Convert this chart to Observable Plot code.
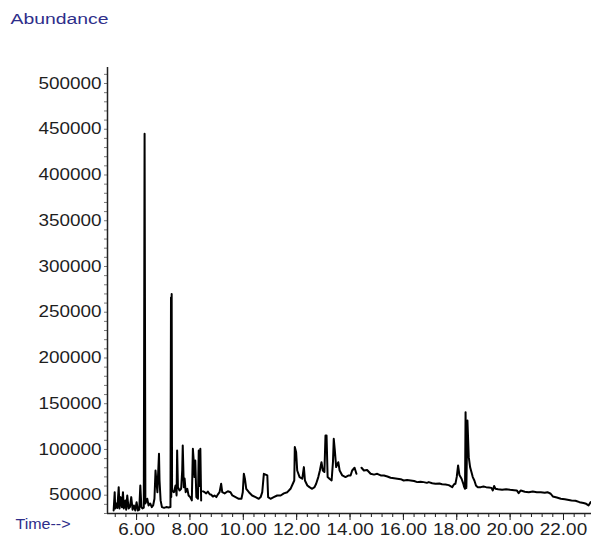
<!DOCTYPE html>
<html><head><meta charset="utf-8">
<script src="https://cdn.jsdelivr.net/npm/d3@7"></script>
<script src="https://cdn.jsdelivr.net/npm/@observablehq/plot@0.6"></script>
<style>body{margin:0;background:#fff}</style>
</head><body><div id="chart"></div>
<script>
// Retention time (min) and abundance; null = gap in trace
const times = [
 5.14,5.18,5.20,5.24,5.28,5.33,5.36,5.40,5.45,5.49,5.52,5.58,5.61,5.65,5.70,5.75,5.80,5.85,5.90,5.95,
 6.00,6.05,6.10,6.14,6.18,6.22,6.27,6.30,6.33,6.40,6.45,6.51,6.57,6.62,6.67,6.71,6.74,6.78,6.80,6.84,
 6.86,6.90,6.95,7.03,7.11,7.20,7.27,7.29,7.30,7.315,7.33,7.40,7.46,7.50,7.52,7.55,7.61,7.67,7.71,7.73,
 7.77,7.80,7.84,7.90,7.95,8.01,8.07,8.11,8.15,8.17,8.20,8.24,8.30,8.33,8.36,8.39,8.42,8.45,
 8.49,8.55,8.61,8.67,8.74,8.80,8.86,8.92,8.99,9.05,9.11,9.17,9.21,9.30,9.42,9.52,9.59,9.71,9.83,9.93,
 9.98,10.02,10.06,10.11,10.21,10.33,10.46,10.58,10.65,10.71,10.77,10.90,10.93,11.02,11.14,11.27,11.40,11.52,11.65,11.77,
 11.86,11.91,11.93,11.98,12.02,12.11,12.21,12.27,12.31,12.40,12.48,12.58,12.67,12.73,12.81,12.87,12.93,12.98,13.04,13.08,
 13.12,13.16,13.23,13.31,13.36,13.39,13.43,13.48,13.56,13.61,13.71,13.83,13.95,14.02,14.08,14.17,14.24,14.33,
 14.43,14.52,14.64,14.77,14.90,15.02,15.15,15.27,15.40,15.52,15.65,15.77,15.90,16.01,16.14,16.27,16.40,16.52,16.64,16.76,
 16.88,16.95,17.08,17.20,17.35,17.45,17.58,17.70,17.83,17.90,17.95,18.00,18.05,18.10,18.18,18.24,18.28,18.31,18.33,18.36,
 18.40,18.45,18.50,18.55,18.60,18.66,18.72,18.78,18.90,19.00,19.10,19.20,19.30,19.35,19.40,19.45,19.55,19.70,19.85,20.00,
 20.15,20.25,20.32,20.40,20.55,20.70,20.85,21.00,21.15,21.30,21.40,21.52,21.60,21.75,21.90,22.05,22.15,22.30,22.45,22.60,
 22.75,22.85,22.94,23.02
];
const abundance = [
 33300,53300,35500,41000,36000,58800,35500,47900,36900,53300,35500,44300,34200,49700,35500,37000,47900,34200,38800,33300,
 42400,33300,34200,60650,37000,35500,36500,445000,41000,46100,38800,41000,37000,38800,46100,77000,66100,53300,68300,95300,
 66100,44300,37000,36200,37000,36500,37000,266000,48000,270000,55000,53300,60650,49700,98900,58800,55200,57000,77000,104400,
 58800,68300,53300,57000,49700,47900,44300,100700,84400,69800,88000,47900,46100,98900,60000,100700,44300,null,
 54300,53300,52000,54000,51000,50500,48500,49700,47900,51000,53300,62500,53300,52000,54300,53300,49700,47900,46100,46100,
 53300,73400,68000,57000,53300,49700,47900,46100,47900,53300,73400,71600,47900,46100,47900,49700,49700,52000,53300,57000,
 62800,66100,102600,97000,77000,69800,68000,80700,66100,60650,58800,57000,58800,62500,69800,77000,86100,77000,75300,115300,
 115300,69800,68000,66100,86100,111700,98900,80700,86100,77000,71600,69800,71600,71600,77000,80000,73400,null,
 80000,77000,77500,73400,72500,73400,71600,71600,70500,69100,68500,68000,67500,66100,66500,66100,65500,64300,64800,64300,
 63500,64300,63000,62500,62800,62000,61800,61000,58800,62000,62500,70000,82500,72000,68000,63000,58800,57000,140800,58000,
 131700,91600,80700,75300,69800,66100,60650,58800,58800,59500,58800,58500,58000,55200,60000,57000,56500,55900,56500,55900,
 55500,55200,52300,55200,53800,53300,54000,53300,53300,52800,53300,51600,48600,47500,46100,45500,45000,44300,44000,42400,
 41500,40600,38800,42400
];
const xTicks = [6, 8, 10, 12, 14, 16, 18, 20, 22];
const yTicks = [50000, 100000, 150000, 200000, 250000, 300000, 350000, 400000, 450000, 500000];

const data = times.map((t, i) => ({t, v: abundance[i]}));
const xMinor = d3.range(5.2, 23.05, 0.4);
const yMinor = d3.range(30000, 517500, 10000);

const chart = Plot.plot({
  width: 591, height: 545,
  marginTop: 67, marginBottom: 32, marginLeft: 107, marginRight: 0,
  style: {fontFamily: "Liberation Sans, Arial, sans-serif", fontSize: "16.3px", color: "#1e1e1e", background: "#fff", overflow: "visible"},
  x: {domain: [4.91, 23.05]},
  y: {domain: [30000, 517500]},
  marks: [
    Plot.axisX(xMinor, {tickSize: 4, tickFormat: () => "", label: null}),
    Plot.axisX(xTicks, {tickSize: 7, tickPadding: 3, tickFormat: d => d.toFixed(2), label: null}),
    Plot.axisY(yMinor, {tickSize: 3, tickFormat: () => "", label: null, strokeOpacity: 0.6}),
    Plot.axisY(yTicks, {tickSize: 0, tickPadding: 6, tickFormat: d => String(d), label: null}),
    Plot.ruleX([4.91], {stroke: "#222", strokeWidth: 1.5}),
    Plot.ruleY([30000], {stroke: "#222", strokeWidth: 1.5}),
    Plot.line(data, {x: "t", y: "v", stroke: "#000", strokeWidth: 2}),
    Plot.text(["Abundance"], {frameAnchor: "top-left", dx: -97, dy: -55, textAnchor: "start", fill: "#2e2e8a", fontSize: 15.5}),
    Plot.text(["Time-->"], {frameAnchor: "bottom-left", dx: -92, dy: 15, textAnchor: "start", fill: "#2e2e8a", fontSize: 14})
  ]
});
document.getElementById("chart").append(chart);

// widen the glyphs a little, as in the reference rendering
chart.querySelectorAll("text").forEach(t => {
  const s = t.textContent;
  if (!s) return;
  const w = t.getComputedTextLength();
  let target = w * 1.16;
  if (s === "Abundance") target = 98;
  if (s === "Time-->") target = 55;
  t.setAttribute("textLength", target.toFixed(1));
  t.setAttribute("lengthAdjust", "spacingAndGlyphs");
});
</script>
</body></html>
